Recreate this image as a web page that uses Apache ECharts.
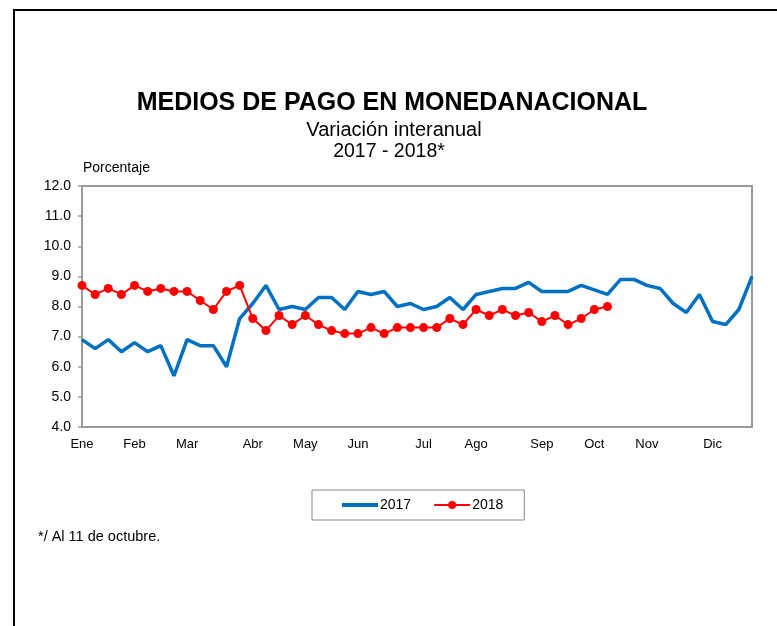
<!DOCTYPE html>
<html><head><meta charset="utf-8">
<script src="https://cdn.jsdelivr.net/npm/echarts@6/dist/echarts.min.js"></script>
<style>html,body{margin:0;padding:0;background:#fff;}#c{width:777px;height:626px;}</style>
</head><body><div id="c"></div>
<script>
const weeks = Array.from({length: 52}, (_, i) => 'S' + (i + 1));
const monthNames = ['Ene','Feb','Mar','Abr','May','Jun','Jul','Ago','Sep','Oct','Nov','Dic'];
const monthWeekIndex = [0, 4, 8, 13, 17, 21, 26, 30, 35, 39, 43, 48];
const yTicks = [4, 5, 6, 7, 8, 9, 10, 11, 12];
const values2017 = [6.9,6.6,6.9,6.5,6.8,6.5,6.7,5.7,6.9,6.7,6.7,6.0,7.6,8.1,8.7,7.9,8.0,7.9,8.3,8.3,
  7.9,8.5,8.4,8.5,8.0,8.1,7.9,8.0,8.3,7.9,8.4,8.5,8.6,8.6,8.8,8.5,8.5,8.5,8.7,8.55,
  8.4,8.9,8.9,8.7,8.6,8.1,7.8,8.4,7.5,7.4,7.9,9.0];
const values2018 = [8.7,8.4,8.6,8.4,8.7,8.5,8.6,8.5,8.5,8.2,7.9,8.5,8.7,7.6,7.2,7.7,7.4,7.7,7.4,7.2,
  7.1,7.1,7.3,7.1,7.3,7.3,7.3,7.3,7.6,7.4,7.9,7.7,7.9,7.7,7.8,7.5,7.7,7.4,7.6,7.9,8.0];

const FONT = '"Liberation Sans", Arial, sans-serif';
function txt(text, x, y, size, weight, align) {
  return {type: 'text', x: x, y: y, silent: true,
    style: {text: text, fill: '#000', font: weight + ' ' + size + 'px ' + FONT,
            textAlign: align, textVerticalAlign: 'middle'}};
}
const chart = echarts.init(document.getElementById('c'), null, {renderer: 'canvas'});
chart.setOption({
  animation: false,
  backgroundColor: '#fff',
  textStyle: {fontFamily: FONT},
  graphic: [
    {type: 'rect', shape: {x: 14, y: 10, width: 800, height: 700},
     style: {fill: 'none', stroke: '#000', lineWidth: 2}, silent: true},
    txt('MEDIOS DE PAGO EN MONEDANACIONAL', 392, 103, 25, 'bold', 'center'),
    txt('Variación interanual', 394, 130, 20, 'normal', 'center'),
    txt('2017 - 2018*', 389, 152, 19.5, 'normal', 'center'),
    txt('Porcentaje', 83, 168, 14, 'normal', 'left'),
    txt('*/ Al 11 de octubre.', 38, 537, 14.5, 'normal', 'left')
  ],
  legend: {
    left: 312, top: 490, width: 211,
    padding: [8, 21, 8, 28],
    itemGap: 22, itemWidth: 36, itemHeight: 10,
    borderColor: '#888', borderWidth: 1,
    textStyle: {fontSize: 14, color: '#000', fontFamily: FONT, padding: [0, 0, 0, -3]},
    data: [
      {name: '2017', itemStyle: {opacity: 0}, lineStyle: {width: 4}},
      '2018'
    ]
  },
  grid: {left: 82, right: 25, top: 186, bottom: 199, show: true,
         borderColor: '#9a9a9a', borderWidth: 2, backgroundColor: 'transparent'},
  xAxis: {
    type: 'category', data: weeks, boundaryGap: false,
    axisLine: {show: true, lineStyle: {color: '#9a9a9a', width: 2}},
    axisTick: {show: false},
    splitLine: {show: false},
    axisLabel: {
      color: '#000', fontSize: 13, fontFamily: FONT, margin: 11,
      interval: (idx) => monthWeekIndex.indexOf(idx) >= 0,
      formatter: (val, idx) => {
        const k = monthWeekIndex.indexOf(idx);
        return k >= 0 ? monthNames[k] : '';
      }
    }
  },
  yAxis: {
    type: 'value', min: yTicks[0], max: yTicks[yTicks.length - 1], interval: 1,
    axisLine: {show: true, lineStyle: {color: '#9a9a9a', width: 2}},
    axisTick: {show: true, length: 4, lineStyle: {color: '#9a9a9a', width: 1.5}},
    splitLine: {show: false},
    axisLabel: {color: '#000', fontSize: 14, fontFamily: FONT, margin: 11,
                formatter: (v) => v.toFixed(1)}
  },
  series: [
    {name: '2017', type: 'line', data: values2017, symbol: 'none',
     lineStyle: {color: '#0070C0', width: 3.5}, itemStyle: {color: '#0070C0'}, z: 2},
    {name: '2018', type: 'line', data: values2018, symbol: 'circle', symbolSize: 9,
     showAllSymbol: true,
     lineStyle: {color: '#FF0000', width: 2}, itemStyle: {color: '#FF0000'}, z: 3}
  ]
});
</script></body></html>
